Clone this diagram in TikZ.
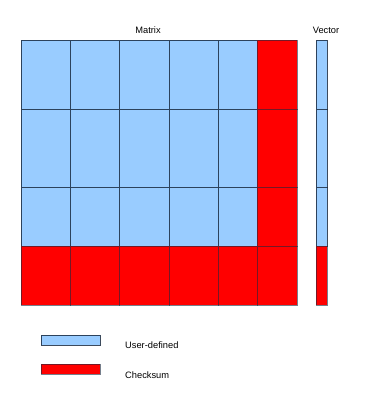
\documentclass[tikz,border=0pt]{standalone}
\usepackage{fontspec}
\setmainfont{Liberation Sans}
\definecolor{userblue}{HTML}{99CCFF}
\definecolor{chkred}{HTML}{FF0000}
\definecolor{edge}{HTML}{1A2A40}
\begin{document}
\begin{tikzpicture}[x=1pt,y=-1pt,
  cellU/.style={fill=userblue,draw=edge,draw opacity=0.85,line width=0.6pt},
  cellC/.style={fill=chkred,draw=edge,draw opacity=0.6,line width=0.6pt},
  lbl/.style={font=\fontsize{9.3}{10}\selectfont,inner sep=0pt}]
\useasboundingbox (0,0) rectangle (372,409);
% matrix columns / rows
\def\xs{{21,70,119,169,218,257,297}}
\def\ys{{40,109,187,246,305}}
\foreach \i in {0,...,5}{
  \foreach \j in {0,...,3}{
    \pgfmathsetmacro\xa{\xs[\i]}
    \pgfmathtruncatemacro\ib{\i+1}
    \pgfmathsetmacro\xb{\xs[\ib]}
    \pgfmathsetmacro\ya{\ys[\j]}
    \pgfmathtruncatemacro\jb{\j+1}
    \pgfmathsetmacro\yb{\ys[\jb]}
    \ifnum\i=5
      \draw[cellC] (\xa,\ya) rectangle (\xb,\yb);
    \else\ifnum\j=3
      \draw[cellC] (\xa,\ya) rectangle (\xb,\yb);
    \else
      \draw[cellU] (\xa,\ya) rectangle (\xb,\yb);
    \fi\fi
  }
}
% vector
\draw[cellU] (316,40) rectangle (327,109);
\draw[cellU] (316,109) rectangle (327,187);
\draw[cellU] (316,187) rectangle (327,246);
\draw[cellC] (316,246) rectangle (327,305);
% titles
\node[lbl] (mt) at (148,30) {Matrix};
\node[lbl] (vt) at (326,30) {Vector};
% legend
\draw[cellU] (41,335) rectangle (100,345);
\draw[cellC] (41,364) rectangle (100,374);
\node[lbl,anchor=west] (lu) at (125,345.5) {User-defined};
\node[lbl,anchor=west] (lc) at (125,375) {Checksum};
\end{tikzpicture}
\end{document}
